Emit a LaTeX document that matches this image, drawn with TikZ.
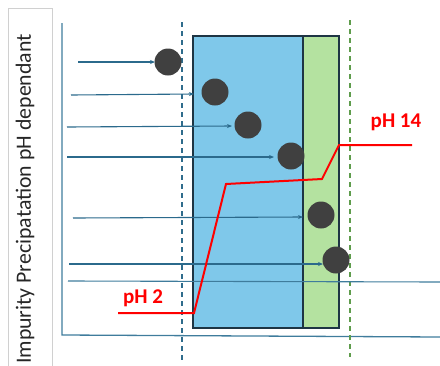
\documentclass[tikz,border=0pt]{standalone}
\usepackage{fontspec}
\setmainfont{Carlito}
\usetikzlibrary{arrows.meta}
\definecolor{axisblue}{HTML}{3F7C9C}
\definecolor{arrowblue}{HTML}{2B6A8C}
\definecolor{dashblue}{HTML}{2F6C8C}
\definecolor{dashgreen}{HTML}{5E9C4C}
\definecolor{fillblue}{HTML}{7FC8EA}
\definecolor{fillgreen}{HTML}{B4E2A0}
\definecolor{edgedark}{HTML}{1E3544}
\definecolor{dotgray}{HTML}{404040}
\definecolor{boxgray}{HTML}{D0D0D0}
\tikzset{
  axisline/.style={draw=axisblue, line width=1.3pt},
  feedarrow/.style={draw=arrowblue, line width=1.1pt, -{Stealth[length=5pt,width=4pt]}},
  feedline/.style={draw=axisblue, line width=1.1pt},
  dashline/.style={line width=1.6pt, dash pattern=on 5pt off 4pt},
  particle/.style={circle, fill=dotgray, minimum size=27pt, inner sep=0pt},
  zone/.style={draw=edgedark, line width=1.1pt},
  phcurve/.style={draw=red, line width=2pt},
  phlabel/.style={text=red, font=\fontsize{21}{23}\selectfont\bfseries, inner sep=0pt},
}
\begin{document}
\begin{tikzpicture}[x=1pt,y=-1pt]
\useasboundingbox (0,0) rectangle (440,365);
% side label box
\draw[boxgray, line width=1pt] (52,380) -- (52,8) -- (8,8) -- (8,380);
\node[rotate=90, font=\fontsize{21.8}{24}\selectfont, text=black!85] (ylabel) at (25,199) {Impurity Precipatation pH dependant};
% axes
\coordinate (ytop) at (62,23);
\coordinate (orig) at (62,335);
\coordinate (xend) at (440,337);
\draw[axisline] (ytop) -- (orig) -- (xend);
% zones
\path[zone, fill=fillblue] (193,36) rectangle (303,328);
\path[zone, fill=fillgreen] (303,36) rectangle (339,328);
% dashed boundaries
\coordinate (bdt) at (182,22);
\coordinate (bdb) at (182,360);
\draw[dashline, dashblue] (bdt) -- (bdb);
\coordinate (gdt) at (350,20);
\coordinate (gdb) at (350,357);
\draw[dashline, dashgreen] (gdt) -- (gdb);
% particles
\node[particle] (p1) at (168,62) {};
\node[particle] (p2) at (215,92) {};
\node[particle] (p3) at (248,125) {};
\node[particle] (p4) at (291,156) {};
\node[particle] (p5) at (321,215) {};
\node[particle] (p6) at (336,260) {};
% feed arrows
\coordinate (a1) at (78,62);  \coordinate (e1) at (155,62);
\coordinate (a2) at (71,95);  \coordinate (e2) at (194,94);
\coordinate (a3) at (67,127); \coordinate (e3) at (232,126);
\coordinate (a4) at (67,157); \coordinate (e4) at (274,157);
\coordinate (a5) at (73,218); \coordinate (e5) at (303,217);
\coordinate (a6) at (69,264); \coordinate (e6) at (323,264);
\coordinate (a7) at (68,281); \coordinate (e7) at (440,282);
\draw[feedarrow] (a1) -- (e1);
\draw[feedarrow] (a2) -- (e2);
\draw[feedarrow] (a3) -- (e3);
\draw[feedarrow] (a4) -- (e4);
\draw[feedarrow] (a5) -- (e5);
\draw[feedarrow] (a6) -- (e6);
\draw[feedline] (a7) -- (e7);
% pH curve
\coordinate (r1) at (118,313);
\coordinate (r2) at (194,313);
\coordinate (r3) at (226,184);
\coordinate (r4) at (322,179);
\coordinate (r5) at (339,145);
\coordinate (r6) at (412,145);
\draw[phcurve] (r1) -- (r2) -- (r3) -- (r4) -- (r5) -- (r6);
\node[phlabel] (ph2) at (143,298) {pH 2};
\node[phlabel] (ph14) at (396,122) {pH 14};
\end{tikzpicture}
\end{document}
